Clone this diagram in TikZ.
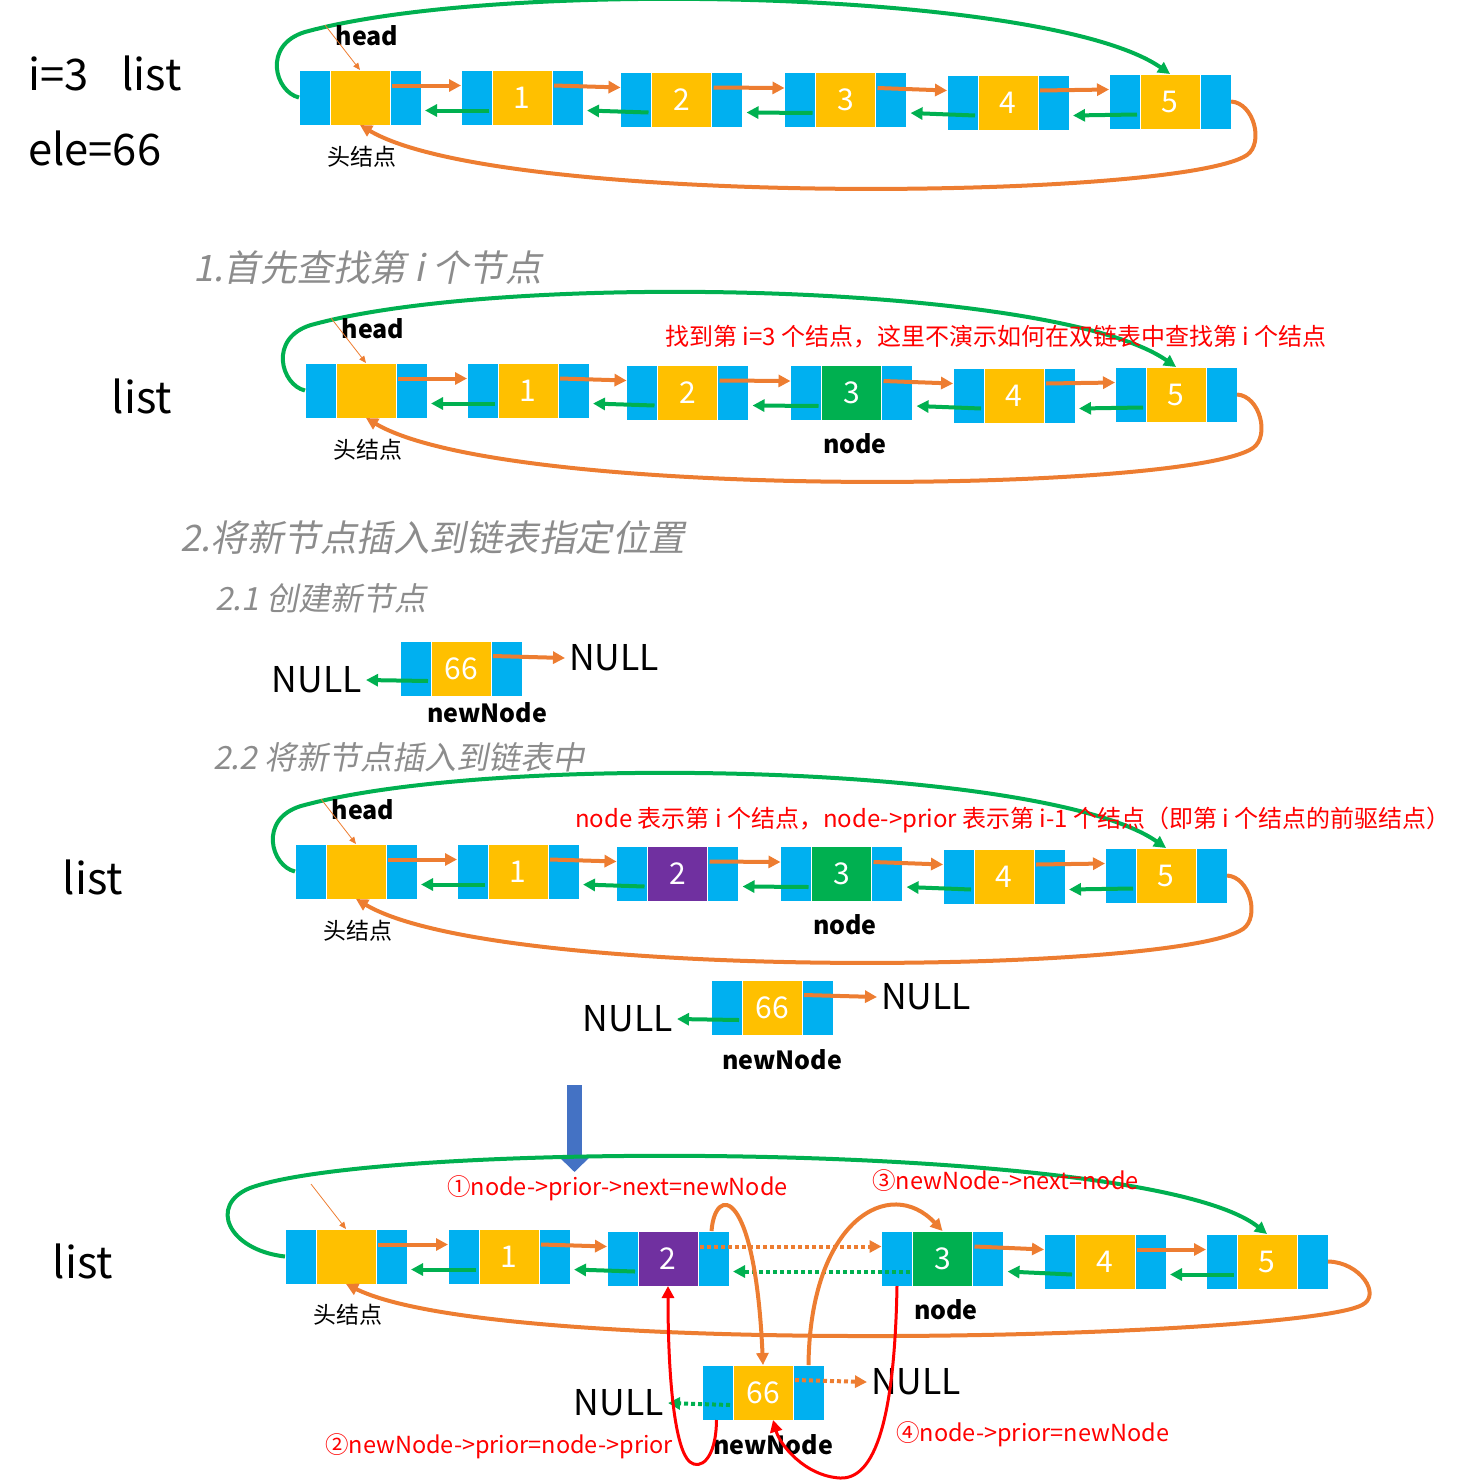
\documentclass[tikz,border=0pt]{standalone}
\usepackage{fontspec}
\setmainfont{Noto Sans CJK SC}
\newfontfamily\slfont[FakeSlant=0.2]{Noto Sans CJK SC}
\usepackage{tikz}
\usetikzlibrary{positioning}
\usetikzlibrary{arrows.meta}
\definecolor{dblue}{HTML}{00B0F0}
\definecolor{dyel}{HTML}{FFC000}
\definecolor{dgreen}{HTML}{00B050}
\definecolor{dpurple}{HTML}{7030A0}
\definecolor{dorange}{HTML}{ED7D31}
\definecolor{dred}{HTML}{FF0000}
\definecolor{darrow}{HTML}{4472C4}
\definecolor{titlegray}{HTML}{8C8C8C}
\tikzstyle{ptrcell} = [rectangle, fill=dblue, draw=white, line width=1pt, minimum width=31pt, minimum height=55pt, inner sep=0pt, outer sep=0pt]
\tikzstyle{datcell} = [rectangle, draw=white, line width=1pt, minimum width=60pt, minimum height=55pt, inner sep=0pt, outer sep=0pt, text=white, font=\fontsize{30}{30}\selectfont]
\tikzstyle{nextarr} = [draw=dorange, line width=4pt, -{Triangle[length=12pt,width=12pt]}]
\tikzstyle{priorarr} = [draw=dgreen, line width=4pt, -{Triangle[length=12pt,width=12pt]}]
\tikzstyle{setarr} = [draw=dred, line width=3pt, -{Triangle[length=12pt,width=12pt]}]
\tikzstyle{dotline} = [dash pattern=on 4pt off 3pt]
\tikzstyle{headptr} = [draw=dorange, line width=0.8pt, -{Triangle[length=7pt,width=6pt]}]
\tikzstyle{bigarr} = [draw=darrow, line width=15pt, -{Triangle[length=16pt,width=32pt]}]
\tikzstyle{lbl} = [inner sep=0pt, font=\fontsize{25}{25}\selectfont\bfseries]
\tikzstyle{cjklbl} = [inner sep=0pt, font=\fontsize{23}{23}\selectfont]
\tikzstyle{bigtxt} = [inner sep=0pt, font=\fontsize{43.5}{43.5}\selectfont]
\tikzstyle{nulltxt} = [inner sep=4pt, font=\fontsize{35.5}{35.5}\selectfont]
\tikzstyle{redtxt} = [inner sep=0pt, text=dred, font=\fontsize{24}{24}\selectfont]
\tikzstyle{optxt} = [inner sep=0pt, text=dred, font=\fontsize{23.5}{23.5}\selectfont]
\tikzstyle{titletxt} = [inner sep=0pt, text=titlegray, font=\slfont\fontsize{36.5}{36.5}\selectfont]
\tikzstyle{subtxt} = [inner sep=0pt, text=titlegray, font=\slfont\fontsize{32}{32}\selectfont]

% one list node: prior | data | next
\newcommand\dlnode[6]{%
  \node[datcell, fill=#6] (#1d#2) at (#3,#4) {#5};
  \node[ptrcell, left=0pt of #1d#2] (#1l#2) {};
  \node[ptrcell, right=0pt of #1d#2] (#1r#2) {};
}
% a whole circular list, drawn at the place of the first one
\newcommand\dlrow[3]{%
  \dlnode{#1}{0}{360}{-97.5}{}{dyel}
  \dlnode{#1}{1}{522}{-97.5}{1}{dyel}
  \dlnode{#1}{2}{681.5}{-99.5}{2}{#2}
  \dlnode{#1}{3}{845.5}{-100}{3}{#3}
  \dlnode{#1}{4}{1008}{-102.5}{4}{dyel}
  \dlnode{#1}{5}{1170}{-101.5}{5}{dyel}
  \foreach \a/\b in {0/1,1/2,2/3,3/4,4/5}{
    \draw[nextarr] ([xshift=2pt,yshift=12pt]#1r\a.west) -- ([yshift=12pt]#1l\b.west);
    \draw[priorarr] ([xshift=-3pt,yshift=-13pt]#1l\b.east) -- ([xshift=4pt,yshift=-13pt]#1r\a.east);
  }
  \draw[priorarr] (#1l0.west) .. controls (275,-92) and (262,-45) .. (305,-32)
    .. controls (500,22) and (1050,10) .. (#1d5.north);
  \draw[nextarr] (#1r5.east) .. controls (1254,-103) and (1264,-143) .. (1247,-155)
    .. controls (1180,-200) and (500,-208) .. (#1d0.south);
  \node[lbl] (#1head) at (367,-36) {head};
  \coordinate (#1hp) at (325,-25);
  \draw[headptr] (#1hp) -- (#1d0.north);
  \node[cjklbl] (#1hn) at (362,-157) {头结点};
}

\begin{document}
\begin{tikzpicture}[x=1pt,y=1pt]
\useasboundingbox (0,0) rectangle (1466,-1483);

\node[bigtxt, anchor=west] (ivar) at (28,-73) {i=3\hspace{33pt}list};
\node[bigtxt, anchor=west] (elevar) at (28,-148) {ele=66};
\dlrow{r1}{dyel}{dyel}

% 1.
\node[titletxt, anchor=west] (step1) at (193,-268) {1.首先查找第 i 个节点};
\begin{scope}[shift={(6,-293)}]
  \dlrow{r2}{dyel}{dgreen}
  \node[lbl] (r2node) at (849,-151) {node};
\end{scope}
\node[bigtxt] (r2list) at (142,-396) {list};
\node[redtxt, anchor=west] (r2note) at (665,-337) {找到第 i=3 个结点，这里不演示如何在双链表中查找第 i 个结点};

% 2.
\node[titletxt, anchor=west] (step2) at (180,-538) {2.将新节点插入到链表指定位置};
\node[subtxt, anchor=west] (step21) at (215,-598) {2.1 创建新节点};
\dlnode{n}{1}{461}{-668.5}{66}{dyel}
\node[nulltxt, anchor=east] (n1nl) at (366,-680) {NULL};
\node[nulltxt, anchor=west] (n1nr) at (565,-658) {NULL};
\draw[priorarr] ([xshift=-3pt,yshift=-12.5pt]nl1.east) -- (n1nl.east);
\draw[nextarr] ([xshift=2pt,yshift=12.5pt]nr1.west) -- (n1nr.west);
\node[lbl] (n1name) at (487,-713) {newNode};

\node[subtxt, anchor=west] (step22) at (213,-757) {2.2 将新节点插入到链表中};
\begin{scope}[shift={(-4,-774)}]
  \dlrow{r4}{dpurple}{dgreen}
  \node[lbl] (r4node) at (849,-151) {node};
\end{scope}
\node[bigtxt] (r4list) at (93,-877) {list};
\node[redtxt, anchor=west] (r4note) at (575,-820) {node 表示第 i 个结点，node->prior 表示第 i-1 个结点（即第 i 个结点的前驱结点）};
\dlnode{n}{2}{772}{-1007.5}{66}{dyel}
\node[nulltxt, anchor=east] (n2nl) at (677,-1019) {NULL};
\node[nulltxt, anchor=west] (n2nr) at (877,-997) {NULL};
\draw[priorarr] ([xshift=-3pt,yshift=-12.5pt]nl2.east) -- (n2nl.east);
\draw[nextarr] ([xshift=2pt,yshift=12.5pt]nr2.west) -- (n2nr.west);
\node[lbl] (n2name) at (782,-1060) {newNode};

\coordinate (bigtop) at (574.5,-1085);
\coordinate (bigtip) at (574.5,-1172);
\draw[bigarr] (bigtop) -- (bigtip);

% after inserting
\dlnode{r5}{0}{346}{-1256.5}{}{dyel}
\dlnode{r5}{1}{509}{-1256.5}{1}{dyel}
\dlnode{r5}{2}{668}{-1258.5}{2}{dpurple}
\dlnode{r5}{3}{942.5}{-1258.5}{3}{dgreen}
\dlnode{r5}{4}{1105}{-1261.5}{4}{dyel}
\dlnode{r5}{5}{1267}{-1261.5}{5}{dyel}
\foreach \a/\b in {0/1,1/2,3/4,4/5}{
  \draw[nextarr] ([xshift=2pt,yshift=12pt]r5r\a.west) -- ([yshift=12pt]r5l\b.west);
  \draw[priorarr] ([xshift=-3pt,yshift=-13pt]r5l\b.east) -- ([xshift=4pt,yshift=-13pt]r5r\a.east);
}
\draw[nextarr, dotline] ([xshift=2pt,yshift=12pt]r5r2.west) -- ([yshift=12pt]r5l3.west);
\draw[priorarr, dotline] ([xshift=-3pt,yshift=-13pt]r5l3.east) -- ([xshift=4pt,yshift=-13pt]r5r2.east);
\draw[priorarr] (r5l0.west) .. controls (228,-1250) and (208,-1205) .. (250,-1188)
  .. controls (380,-1140) and (1150,-1140) .. (r5d5.north);
\draw[nextarr] (r5r5.east) .. controls (1360,-1262) and (1382,-1295) .. (1362,-1305)
  .. controls (1300,-1338) and (500,-1360) .. (r5d0.south);
\coordinate (r5hp) at (311,-1184);
\draw[headptr] (r5hp) -- (r5d0.north);
\node[cjklbl] (r5hn) at (348,-1315) {头结点};
\node[lbl] (r5node) at (946,-1310) {node};
\node[bigtxt] (r5list) at (83,-1261) {list};

\dlnode{n}{3}{763}{-1392.5}{66}{dyel}
\node[nulltxt, anchor=east] (n3nl) at (668,-1403) {NULL};
\node[nulltxt, anchor=west] (n3nr) at (867,-1382) {NULL};
\draw[priorarr, dotline] ([xshift=-3pt,yshift=-12.5pt]nl3.east) -- (n3nl.east);
\draw[nextarr, dotline] ([xshift=2pt,yshift=12.5pt]nr3.west) -- (n3nr.west);
\node[lbl] (n3name) at (773,-1445) {newNode};

\draw[nextarr] ([xshift=-2pt]r5r2.north) .. controls (715,-1185) and (755,-1185) .. (nd3.north);
\draw[nextarr] (nr3.north) .. controls (810,-1220) and (890,-1175) .. (r5d3.north);
\draw[setarr] ([xshift=-1pt]nl3.south) .. controls (716,-1460) and (700,-1470) .. (690,-1462)
  .. controls (675,-1450) and (668,-1380) .. (r5d2.south);
\draw[setarr] (r5l3.south) .. controls (895,-1400) and (880,-1480) .. (840,-1478)
  .. controls (805,-1476) and (780,-1445) .. ([xshift=10pt]nd3.south);
\node[optxt, anchor=west] (op1) at (447,-1188) {①node->prior->next=newNode};
\node[optxt, anchor=west] (op3) at (872,-1181) {③newNode->next=node};
\node[optxt, anchor=west] (op2) at (325,-1446) {②newNode->prior=node->prior};
\node[optxt, anchor=west] (op4) at (896,-1434) {④node->prior=newNode};
\end{tikzpicture}
\end{document}
